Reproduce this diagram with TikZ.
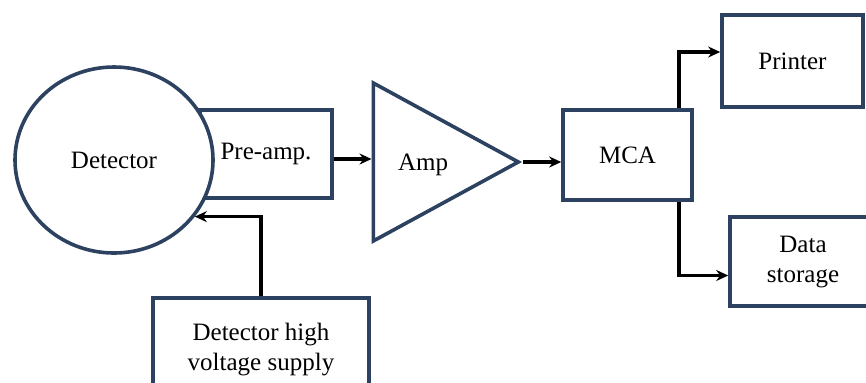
\documentclass[tikz,border=0pt]{standalone}
\usepackage{fontspec}
\setmainfont{Liberation Serif}
\usetikzlibrary{
  shapes.geometric, % Shapes "ellipse", "isosceles triangle"
  arrows.meta,
  calc,             % Calculations $...$
}
\definecolor{framecol}{RGB}{44,66,96}
\tikzset{
  x=0.5pt,
  y=-0.5pt,
  font=\fontsize{12.5}{15}\selectfont,
  >={Stealth[length=6pt,width=5.5pt]},
  my frame/.style={
    draw=framecol,
    line width=1.8pt,
    fill=white,
    inner sep=0pt
  },
  my box/.style={
    my frame,
    rectangle,
    align=center
  },
  my round/.style={
    my frame,
    ellipse
  },
  my amp/.style={
    my frame,
    isosceles triangle,
    isosceles triangle stretches,
    shape border rotate=0
  },
  my arrow/.style={
    ->,
    black,
    line width=1.8pt
  }
}

\begin{document}
\begin{tikzpicture}
\useasboundingbox (0,0) rectangle (866,382);
\clip (0,0) rectangle (866,382);
% blocks
\node[my box,minimum width=66pt,minimum height=44pt]   (pre) at (266,154) {Pre-amp.};
\node[my round,minimum width=99pt,minimum height=93pt] (det) at (114,160) {Detector};
\node[my amp,minimum width=79pt,minimum height=72.5pt,anchor=apex] (amp) at (523,162) {};
\node                                                  (amplbl) at (423,165) {Amp};
\node[my box,minimum width=64.5pt,minimum height=45pt] (mca) at (627.5,155) {MCA};
\node[my box,minimum width=70.5pt,minimum height=46pt] (prn) at (792.5,61) {Printer};
\node[my box,minimum width=73pt,minimum height=44.5pt] (dat) at (803,261.5) {Data\\storage};
\node[my box,minimum width=108pt,minimum height=52pt]  (hv)  at (261,350) {Detector high\\voltage supply};
% connectors
\coordinate (preout) at ($(pre.east)+(0,5)$);
\draw[my arrow] (preout) -- (preout -| amp.west);
\draw[my arrow] (amp.apex) -- (amp.apex -| mca.west);
\draw[my arrow] ($(mca.north east)+(-15,0)$) |- ($(prn.west)+(0,-9)$);
\draw[my arrow] ($(mca.south east)+(-15,0)$) |- ($(dat.west)+(0,14)$);
\draw[my arrow] (hv.north) |- (det.-35);
\end{tikzpicture}
\end{document}
